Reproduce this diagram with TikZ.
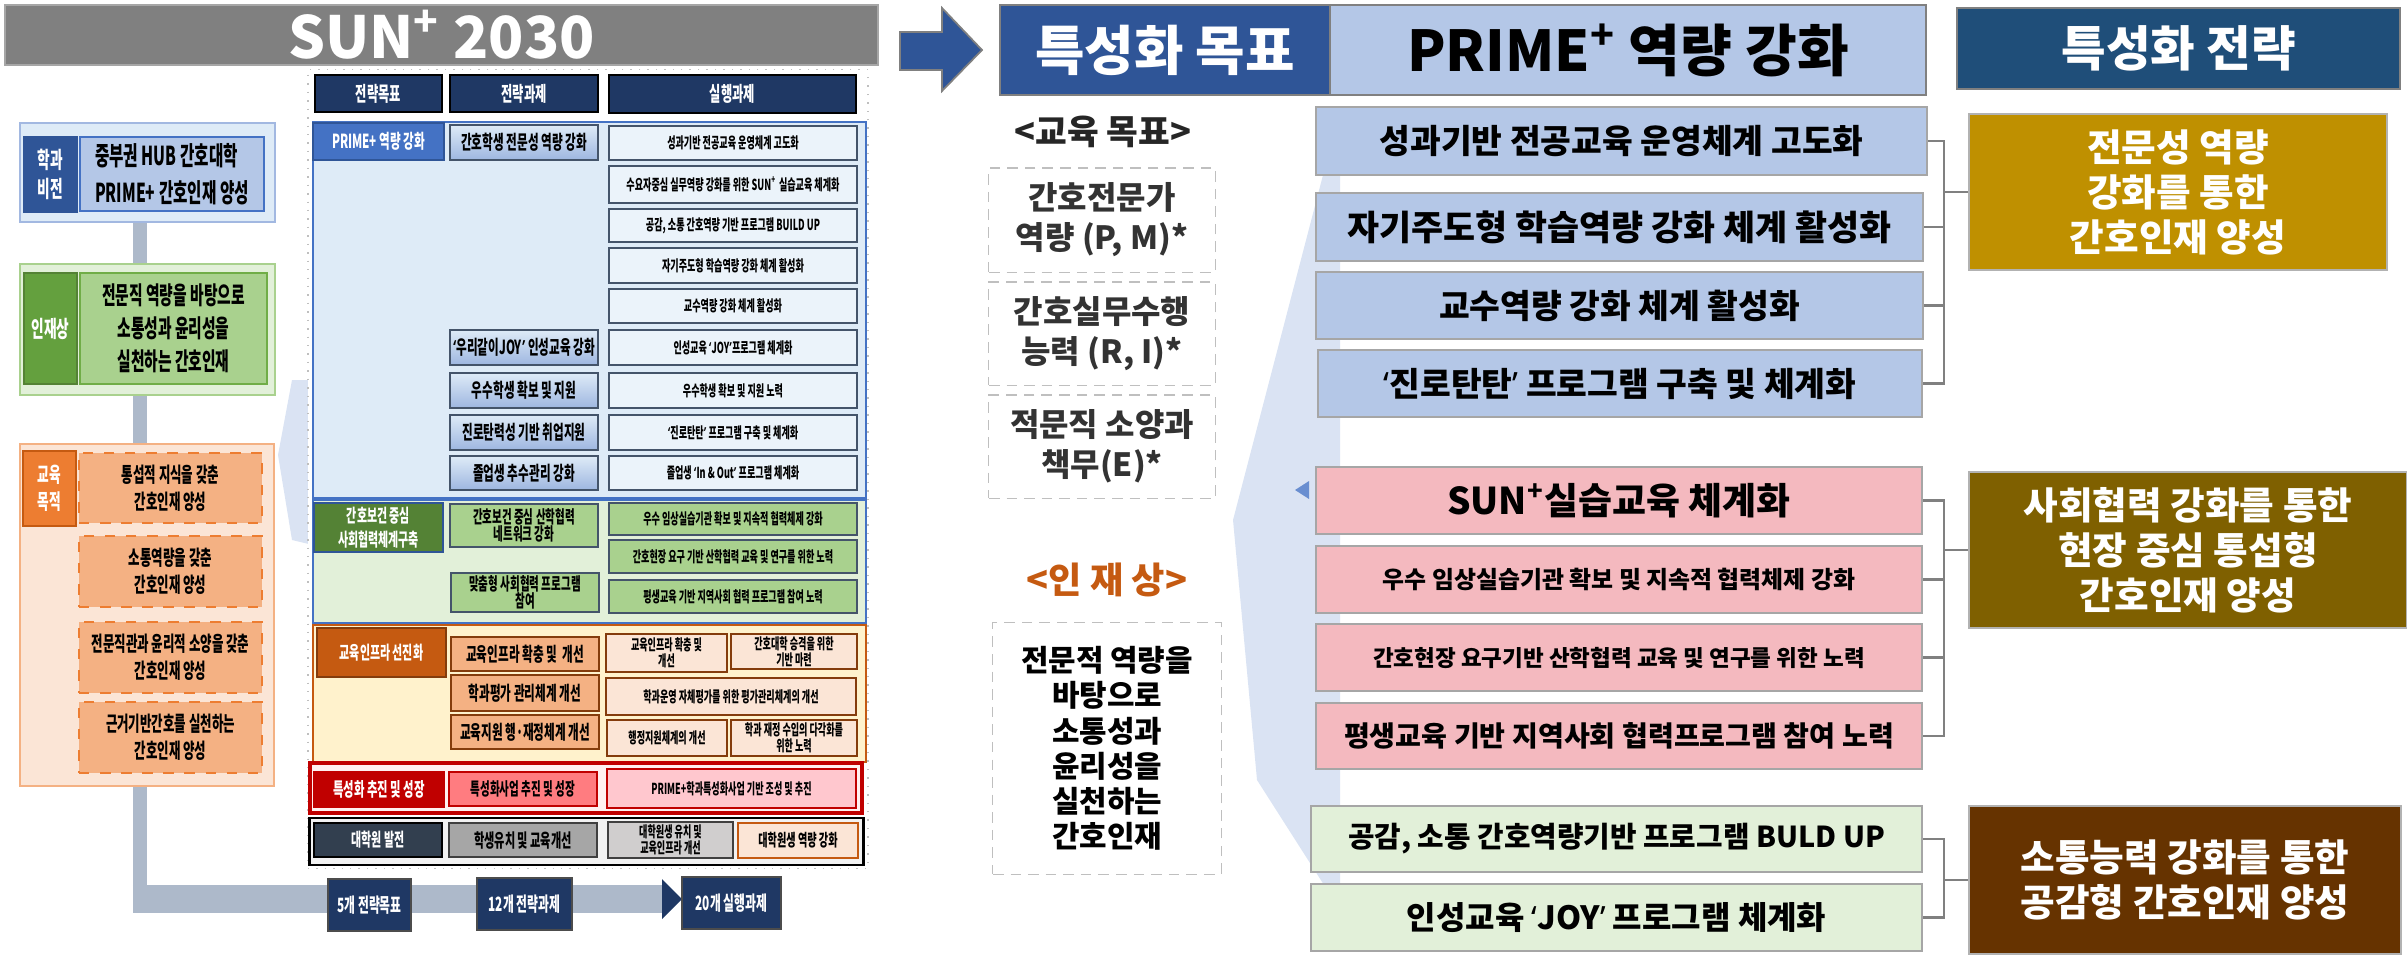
\documentclass[tikz,border=0pt]{standalone}
\usepackage{fontspec}
\setmainfont{Noto Sans CJK KR}
\newfontfamily\kr{Noto Sans CJK KR}
\newfontfamily\krs{Noto Sans CJK KR}[FakeStretch=0.6]
\newfontfamily\lat{Noto Sans}
\newcommand\oq{{\lat ‘}}
\newcommand\cq{{\lat ’}}

\definecolor{navy}{HTML}{1F3864}
\definecolor{blueA}{HTML}{2F5597}
\definecolor{blueB}{HTML}{4472C4}
\definecolor{blueL}{HTML}{B4C7E7}
\definecolor{blueXL}{HTML}{DEEBF7}
\definecolor{pale}{HTML}{DAE3F3}
\definecolor{stratblue}{HTML}{1F4E79}
\definecolor{greenD}{HTML}{548235}
\definecolor{greenM}{HTML}{70AD47}
\definecolor{greenL}{HTML}{A9D18E}
\definecolor{greenXL}{HTML}{E2F0D9}
\definecolor{greenlbl}{HTML}{64A03E}
\definecolor{orangeD}{HTML}{C55A11}
\definecolor{orangeM}{HTML}{ED7D31}
\definecolor{orangeL}{HTML}{F4B183}
\definecolor{orangeXL}{HTML}{FBE5D6}
\definecolor{brownD}{HTML}{843C0C}
\definecolor{yellowXL}{HTML}{FFF2CC}
\definecolor{redD}{HTML}{C00000}
\definecolor{redM}{HTML}{FF7C80}
\definecolor{redL}{HTML}{FFC7CE}
\definecolor{slate}{HTML}{323F4F}
\definecolor{grayM}{HTML}{A6A6A6}
\definecolor{grayL}{HTML}{D0CECE}
\definecolor{spine}{HTML}{ADB9CA}
\definecolor{pinkbox}{HTML}{F4B9BF}
\definecolor{gold}{HTML}{BF9000}
\definecolor{olivebox}{HTML}{7F6000}
\definecolor{umber}{HTML}{663300}
\definecolor{edge}{HTML}{44546A}

\tikzset{
  box/.style={draw, inner sep=0pt, align=center},
  hdr/.style={box, fill=navy, draw=black, line width=0.5pt, text=white, font=\krs\bfseries\fontsize{5.8}{6.5}\selectfont},
  goal/.style={box, text=white, line width=0.5pt, font=\krs\bfseries\fontsize{5.2}{6.8}\selectfont},
  task/.style={box, draw=edge, line width=0.45pt, font=\krs\bfseries\fontsize{5.5}{5}\selectfont},
  act/.style={box, draw=edge, line width=0.45pt, font=\krs\bfseries\fontsize{4.3}{4.8}\selectfont},
  sec/.style={draw, line width=0.45pt, inner sep=0pt},
  rbox/.style={box, draw=gray!70, line width=0.5pt},
  strat/.style={box, draw=gray!60, text=white, line width=0.5pt, font=\kr\bfseries\fontsize{10.7}{12.8}\selectfont},
  dbox/.style={box, draw=gray!50, densely dashed, line width=0.3pt, text=black!80, font=\kr\bfseries\fontsize{9.1}{11.4}\selectfont},
  brace/.style={draw=gray, line width=0.6pt},
  count/.style={box, fill=navy, draw=black!70, line width=0.5pt, text=white, font=\krs\bfseries\fontsize{5.6}{6}\selectfont},
}

\begin{document}
\begin{tikzpicture}[x=0.01cm, y=-0.01cm]
\useasboundingbox (0,0) rectangle (2407,954);

% pale pointers behind the boxes
\fill[pale] (1323,175) -- (1340,175) -- (1340,885) -- (1324,885) -- (1257,780) -- (1233,520) -- cycle;
\fill[pale] (292,380) -- (313,380) -- (313,545) -- (292,540) -- (278,455) -- cycle;
\fill[blueB!80!white] (1295,490) -- (1309,481) -- (1309,499) -- cycle;

% title and arrow
\node[box, fill=black!50, draw=black!35, line width=0.6pt, text=white, minimum width=8.73cm, minimum height=0.60cm, font=\kr\bfseries\fontsize{16.5}{18}\selectfont] (sun) at (441.5,35) {SUN\textsuperscript{+} 2030};
\draw[draw=gray, fill=blueA, line width=0.5pt] (900,32) -- (942,32) -- (942,8) -- (982,50) -- (942,91) -- (942,70) -- (900,70) -- cycle;

% spine of the left column
\coordinate (spinetop) at (140,222);
\coordinate (bend) at (140,899);
\coordinate (tip) at (662,899);
\draw[color=spine, line width=3.98pt] (spinetop) -- (bend);
\draw[color=spine, line width=7.97pt] ([xshift=-0.07cm]bend) -- (tip);
\fill[navy] (tip) ++(0,-20) -- ++(20,20) -- ++(-20,20) -- cycle;

% left column
\node[draw=blueB!50, fill=blueXL, line width=0.6pt, minimum width=2.55cm, minimum height=0.99cm] (visframe) at (147.5,172.5) {};
\node[box, fill=blueA, draw=blueA, text=white, minimum width=0.53cm, minimum height=0.75cm, font=\krs\bfseries\fontsize{6.5}{8.3}\selectfont] (vislbl) at (50.5,174.5) {학과\\비전};
\node[draw=blueB, fill=blueL, line width=0.8pt, inner sep=0pt, align=left, minimum width=1.84cm, minimum height=0.74cm, font=\krs\bfseries\fontsize{7.4}{10.5}\selectfont] (vis) at (172,174) {중부권 HUB 간호대학\\PRIME+ 간호인재 양성};

\node[draw=greenL, fill=greenXL, line width=0.6pt, minimum width=2.55cm, minimum height=1.31cm] (talframe) at (147.5,329.5) {};
\node[box, fill=greenlbl, draw=greenD, text=white, minimum width=0.53cm, minimum height=1.11cm, font=\krs\bfseries\fontsize{6.5}{8}\selectfont] (tallbl) at (50.5,328.5) {인재상};
\node[box, fill=greenL, draw=greenM, line width=0.8pt, minimum width=1.87cm, minimum height=1.11cm, font=\krs\bfseries\fontsize{7}{9.4}\selectfont] (tal) at (173.5,328.5) {전문직 역량을 바탕으로\\소통성과 윤리성을\\실천하는 간호인재};

\node[draw=orangeL, fill=orangeXL, line width=0.6pt, minimum width=2.54cm, minimum height=3.42cm] (eduframe) at (147,615) {};
\node[box, fill=orangeM, draw=orangeD, line width=0.8pt, text=white, minimum width=0.53cm, minimum height=0.75cm, font=\krs\bfseries\fontsize{6}{7.6}\selectfont] (edulbl) at (49.5,488.5) {교육\\목적};
\node[box, fill=orangeL, draw=orangeM, dashed, line width=0.6pt, minimum width=1.83cm, minimum height=0.70cm, font=\krs\bfseries\fontsize{5.9}{7.7}\selectfont] (edu1) at (170.5,488) {통섭적 지식을 갖춘\\간호인재 양성};
\node[box, fill=orangeL, draw=orangeM, dashed, line width=0.6pt, minimum width=1.83cm, minimum height=0.71cm, font=\krs\bfseries\fontsize{5.9}{7.7}\selectfont] (edu2) at (170.5,571.5) {소통역량을 갖춘\\간호인재 양성};
\node[box, fill=orangeL, draw=orangeM, dashed, line width=0.6pt, minimum width=1.83cm, minimum height=0.71cm, font=\krs\bfseries\fontsize{5.9}{7.7}\selectfont] (edu3) at (170.5,657.5) {전문직관과 윤리적 소양을 갖춘\\간호인재 양성};
\node[box, fill=orangeL, draw=orangeM, dashed, line width=0.6pt, minimum width=1.83cm, minimum height=0.71cm, font=\krs\bfseries\fontsize{5.9}{7.7}\selectfont] (edu4) at (170.5,737.5) {근거기반간호를 실천하는\\간호인재 양성};

% counters on the spine
\node[count, minimum width=0.83cm, minimum height=0.52cm] (n5) at (369.5,905) {5개 전략목표};
\node[count, minimum width=0.95cm, minimum height=0.52cm] (n12) at (524.5,904) {12개 전략과제};
\node[count, minimum width=0.99cm, minimum height=0.52cm] (n20) at (731.5,903) {20개 실행과제};

% strategy chart
\node[draw=gray!50, dotted, fill=white, minimum width=5.60cm, minimum height=7.98cm] (chart) at (588,469) {};
\node[hdr, minimum width=1.27cm, minimum height=0.37cm] (h1) at (378.5,93.5) {전략목표};
\node[hdr, minimum width=1.48cm, minimum height=0.37cm] (h2) at (524,93.5) {전략과제};
\node[hdr, minimum width=2.47cm, minimum height=0.38cm] (h3) at (732.5,94) {실행과제};

% PRIME+
\node[sec, draw=blueB, fill=blueXL, minimum width=5.53cm, minimum height=3.76cm] (sec1) at (589.5,310) {};
\node[goal, fill=blueB, draw=blueA, minimum width=1.31cm, minimum height=0.37cm, font=\krs\bfseries\fontsize{5.5}{6}\selectfont] (g1) at (378.5,141.5) {PRIME+ 역량 강화};
\node[task, top color=blueXL, bottom color=blueL!80!blueB, minimum width=1.48cm, minimum height=0.35cm] (t11) at (524,142.5) {간호학생 전문성 역량 강화};
\node[task, top color=blueXL, bottom color=blueL!80!blueB, minimum width=1.48cm, minimum height=0.35cm] (t12) at (524,347.5) {\oq 우리같이JOY\cq{} 인성교육 강화};
\node[task, top color=blueXL, bottom color=blueL!80!blueB, minimum width=1.48cm, minimum height=0.35cm] (t13) at (524,390.5) {우수학생 확보 및 지원};
\node[task, top color=blueXL, bottom color=blueL!80!blueB, minimum width=1.48cm, minimum height=0.35cm] (t14) at (524,432.5) {진로탄력성 기반 취업지원};
\node[task, top color=blueXL, bottom color=blueL!80!blueB, minimum width=1.48cm, minimum height=0.34cm] (t15) at (524,473) {졸업생 추수관리 강화};
\node[act, fill=blueXL!60, minimum width=2.48cm, minimum height=0.34cm] (a1) at (733,143) {성과기반 전공교육 운영체계 고도화};
\node[act, fill=blueXL!60, minimum width=2.48cm, minimum height=0.37cm] (a2) at (733,184.5) {수요자중심 실무역량 강화를 위한 SUN\textsuperscript{+} 실습교육 체계화};
\node[act, fill=blueXL!60, minimum width=2.48cm, minimum height=0.33cm] (a3) at (733,225.5) {공감, 소통 간호역량 기반 프로그램 BUILD UP};
\node[act, fill=blueXL!60, minimum width=2.48cm, minimum height=0.35cm] (a4) at (733,265.5) {자기주도형 학습역량 강화 체계 활성화};
\node[act, fill=blueXL!60, minimum width=2.48cm, minimum height=0.34cm] (a5) at (733,306) {교수역량 강화 체계 활성화};
\node[act, fill=blueXL!60, minimum width=2.48cm, minimum height=0.35cm] (a6) at (733,347.5) {인성교육 \oq JOY\cq 프로그램 체계화};
\node[act, fill=blueXL!60, minimum width=2.48cm, minimum height=0.35cm] (a7) at (733,390.5) {우수학생 확보 및 지원 노력};
\node[act, fill=blueXL!60, minimum width=2.48cm, minimum height=0.35cm] (a8) at (733,432.5) {\oq 진로탄탄\cq{} 프로그램 구축 및 체계화};
\node[act, fill=blueXL!60, minimum width=2.48cm, minimum height=0.34cm] (a9) at (733,473) {졸업생 \oq In \& Out\cq{} 프로그램 체계화};

% social cooperation
\node[sec, draw=blueB, fill=greenXL, minimum width=5.53cm, minimum height=1.23cm] (sec2) at (589.5,561.5) {};
\node[goal, fill=greenD, draw=blueA, minimum width=1.29cm, minimum height=0.49cm] (g2) at (378.5,527.5) {간호보건 중심\\사회협력체계구축};
\node[task, fill=greenL, minimum width=1.48cm, minimum height=0.43cm, font=\krs\bfseries\fontsize{5}{5}\selectfont] (t21) at (524,525.5) {간호보건 중심 산학협력\\네트워크 강화};
\node[task, fill=greenL, minimum width=1.48cm, minimum height=0.39cm, font=\krs\bfseries\fontsize{5}{5}\selectfont] (t22) at (525,592.5) {맞춤형 사회협력 프로그램\\참여};
\node[act, fill=greenL, minimum width=2.48cm, minimum height=0.32cm] (a21) at (733,519) {우수 임상실습기관 확보 및 지속적 협력체제 강화};
\node[act, fill=greenL, minimum width=2.48cm, minimum height=0.33cm] (a22) at (733,556.5) {간호현장 요구 기반 산학협력 교육 및 연구를 위한 노력};
\node[act, fill=greenL, minimum width=2.48cm, minimum height=0.33cm] (a23) at (733,596.5) {평생교육 기반 지역사회 협력 프로그램 참여 노력};

% infrastructure
\node[sec, draw=orangeD, fill=yellowXL, minimum width=5.53cm, minimum height=1.37cm] (sec3) at (589.5,693.5) {};
\node[goal, fill=orangeD, draw=brownD, minimum width=1.29cm, minimum height=0.49cm] (g3) at (381.5,652.5) {교육인프라 선진화};
\node[task, fill=orangeL, draw=brownD, minimum width=1.48cm, minimum height=0.34cm] (t31) at (525,654) {교육인프라 확충 및 \ 개선};
\node[task, fill=orangeL, draw=brownD, minimum width=1.48cm, minimum height=0.36cm] (t32) at (525,693) {학과평가 관리체계 개선};
\node[task, fill=orangeL, draw=brownD, minimum width=1.48cm, minimum height=0.34cm] (t33) at (525,732) {교육지원 행·재정체계 개선};
\node[act, fill=orangeXL, draw=brownD, minimum width=1.21cm, minimum height=0.38cm, font=\krs\bfseries\fontsize{4.3}{4.6}\selectfont] (a31) at (666.5,653) {교육인프라 확충 및\\개선};
\node[act, fill=orangeXL, draw=brownD, minimum width=1.26cm, minimum height=0.35cm, font=\krs\bfseries\fontsize{4.3}{4.6}\selectfont] (a32) at (794,651.5) {간호대학 승격을 위한\\기반 마련};
\node[act, fill=orangeXL, draw=brownD, minimum width=2.50cm, minimum height=0.37cm] (a33) at (731,696.5) {학과운영 자체평가를 위한 평가관리체계의 개선};
\node[act, fill=orangeXL, draw=brownD, minimum width=1.20cm, minimum height=0.36cm] (a34) at (667,738) {행정지원체계의 개선};
\node[act, fill=orangeXL, draw=brownD, minimum width=1.26cm, minimum height=0.36cm, font=\krs\bfseries\fontsize{4.3}{4.6}\selectfont] (a35) at (794,738) {학과 재정 수입의 다각화를\\위한 노력};

% specialization
\node[sec, draw=redD, line width=1pt, fill=red!6, minimum width=5.52cm, minimum height=0.50cm] (sec4) at (586,788) {};
\node[goal, fill=redD, draw=redD, minimum width=1.30cm, minimum height=0.35cm, font=\krs\bfseries\fontsize{5.4}{6}\selectfont] (g4) at (379,789.5) {특성화 추진 및 성장};
\node[task, fill=redM, draw=redD, minimum width=1.48cm, minimum height=0.34cm, font=\krs\bfseries\fontsize{5}{6}\selectfont] (t41) at (523,789) {특성화사업 추진 및 성장};
\node[act, fill=redL, draw=redD, line width=0.8pt, minimum width=2.49cm, minimum height=0.39cm] (a41) at (731.5,788.5) {PRIME+학과특성화사업 기반 조성 및 추진};

% graduate school
\node[sec, draw=black, line width=0.8pt, fill=black!5, minimum width=5.53cm, minimum height=0.47cm] (sec5) at (586.5,841.5) {};
\node[goal, fill=slate, draw=black, minimum width=1.28cm, minimum height=0.34cm] (g5) at (378,840) {대학원 발전};
\node[task, fill=grayM, draw=black!75, minimum width=1.48cm, minimum height=0.34cm, font=\krs\bfseries\fontsize{5.3}{6}\selectfont] (t51) at (523,840) {학생유치 및 교육개선};
\node[act, fill=grayL, draw=black!75, minimum width=1.25cm, minimum height=0.36cm, font=\krs\bfseries\fontsize{4.3}{4.6}\selectfont] (a51) at (670.5,840) {대학원생 유치 및\\교육인프라 개선};
\node[act, fill=orangeXL, draw=orangeD, minimum width=1.20cm, minimum height=0.35cm, font=\krs\bfseries\fontsize{4.8}{5}\selectfont] (a52) at (798,840.5) {대학원생 역량 강화};

% headers on the right
\node[box, fill=blueA, draw=gray, line width=0.6pt, text=white, minimum width=3.30cm, minimum height=0.90cm, font=\kr\bfseries\fontsize{15.3}{17}\selectfont] (goalhd) at (1165,50) {특성화 목표};
\node[box, fill=blueL, draw=gray, line width=0.6pt, minimum width=5.96cm, minimum height=0.90cm, font=\kr\bfseries\fontsize{16}{18}\selectfont] (primehd) at (1628,50) {PRIME\textsuperscript{+} 역량 강화};
\node[box, fill=stratblue, draw=gray, line width=0.6pt, text=white, minimum width=4.43cm, minimum height=0.81cm, font=\kr\bfseries\fontsize{13.8}{16}\selectfont] (strathd) at (2178.5,48.5) {특성화 전략};

% goals of education and talent
\node[text=black!85, font=\kr\bfseries\fontsize{9.8}{11}\selectfont] (edugoal) at (1103,132) {<교육 목표>};
\node[dbox, minimum width=2.26cm, minimum height=1.04cm] (d1) at (1102,220) {간호전문가\\역량 (P, M)*};
\node[dbox, minimum width=2.26cm, minimum height=1.03cm] (d2) at (1102,333.5) {간호실무수행\\능력 (R, I)*};
\node[dbox, minimum width=2.26cm, minimum height=1.03cm] (d3) at (1102,446.5) {적문직 소양과\\책무(E)*};
\node[text=orangeD, font=\kr\bfseries\fontsize{10.3}{12}\selectfont] (talhd) at (1107,580) {<인 재 상>};
\node[dbox, text=black, minimum width=2.28cm, minimum height=2.51cm, font=\kr\bfseries\fontsize{8.5}{10}\selectfont] (talent) at (1107,748.5) {전문적 역량을\\바탕으로\\소통성과\\윤리성을\\실천하는\\간호인재};

% tasks on the right
\node[rbox, fill=blueL, minimum width=6.11cm, minimum height=0.68cm, font=\kr\bfseries\fontsize{9.5}{11}\selectfont] (r1) at (1621.5,141) {성과기반 전공교육 운영체계 고도화};
\node[rbox, fill=blueL, minimum width=6.07cm, minimum height=0.68cm, font=\kr\bfseries\fontsize{9.9}{11}\selectfont] (r2) at (1619.5,227) {자기주도형 학습역량 강화 체계 활성화};
\node[rbox, fill=blueL, minimum width=6.07cm, minimum height=0.67cm, font=\kr\bfseries\fontsize{9.5}{11}\selectfont] (r3) at (1619.5,305.5) {교수역량 강화 체계 활성화};
\node[rbox, fill=blueL, minimum width=6.04cm, minimum height=0.67cm, font=\kr\bfseries\fontsize{9.5}{11}\selectfont] (r4) at (1620,383.5) {\oq 진로탄탄\cq{} 프로그램 구축 및 체계화};
\node[rbox, fill=pinkbox, minimum width=6.06cm, minimum height=0.67cm, font=\kr\bfseries\fontsize{10.5}{12}\selectfont] (p1) at (1619,500.5) {SUN\textsuperscript{+}실습교육 체계화};
\node[rbox, fill=pinkbox, minimum width=6.06cm, minimum height=0.67cm, font=\kr\bfseries\fontsize{6.8}{8}\selectfont] (p2) at (1619,579.5) {우수 임상실습기관 확보 및 지속적 협력체제 강화};
\node[rbox, fill=pinkbox, minimum width=6.06cm, minimum height=0.67cm, font=\kr\bfseries\fontsize{6.4}{8}\selectfont] (p3) at (1619,657.5) {간호현장 요구기반 산학협력 교육 및 연구를 위한 노력};
\node[rbox, fill=pinkbox, minimum width=6.06cm, minimum height=0.66cm, font=\kr\bfseries\fontsize{8}{9}\selectfont] (p4) at (1619,736) {평생교육 기반 지역사회 협력프로그램 참여 노력};
\node[rbox, fill=greenXL, minimum width=6.11cm, minimum height=0.66cm, font=\kr\bfseries\fontsize{8.2}{9}\selectfont] (gr1) at (1616.5,839) {공감, 소통 간호역량기반 프로그램 BULD UP};
\node[rbox, fill=greenXL, minimum width=6.11cm, minimum height=0.67cm, font=\kr\bfseries\fontsize{9.1}{10}\selectfont] (gr2) at (1616.5,917.5) {인성교육 \oq JOY\cq{} 프로그램 체계화};

% strategies
\node[strat, fill=gold, minimum width=4.18cm, minimum height=1.56cm] (s1) at (2178,192) {전문성 역량\\강화를 통한\\간호인재 양성};
\node[strat, fill=olivebox, minimum width=4.38cm, minimum height=1.56cm] (s2) at (2188,550) {사회협력 강화를 통한\\현장 중심 통섭형\\간호인재 양성};
\node[strat, fill=umber, minimum width=4.32cm, minimum height=1.48cm] (s3) at (2185,880) {소통능력 강화를 통한\\공감형 간호인재 양성};

% brackets
\coordinate (bx) at (1944,0);
\foreach \n in {r1,r2,r3,r4}
  \draw[brace] (\n.east) -- (\n.east -| bx) |- (s1.west);
\foreach \n in {p1,p2,p3,p4}
  \draw[brace] (\n.east) -- (\n.east -| bx) |- (s2.west);
\foreach \n in {gr1,gr2}
  \draw[brace] (\n.east) -- (\n.east -| bx) |- (s3.west);
\end{tikzpicture}
\end{document}
